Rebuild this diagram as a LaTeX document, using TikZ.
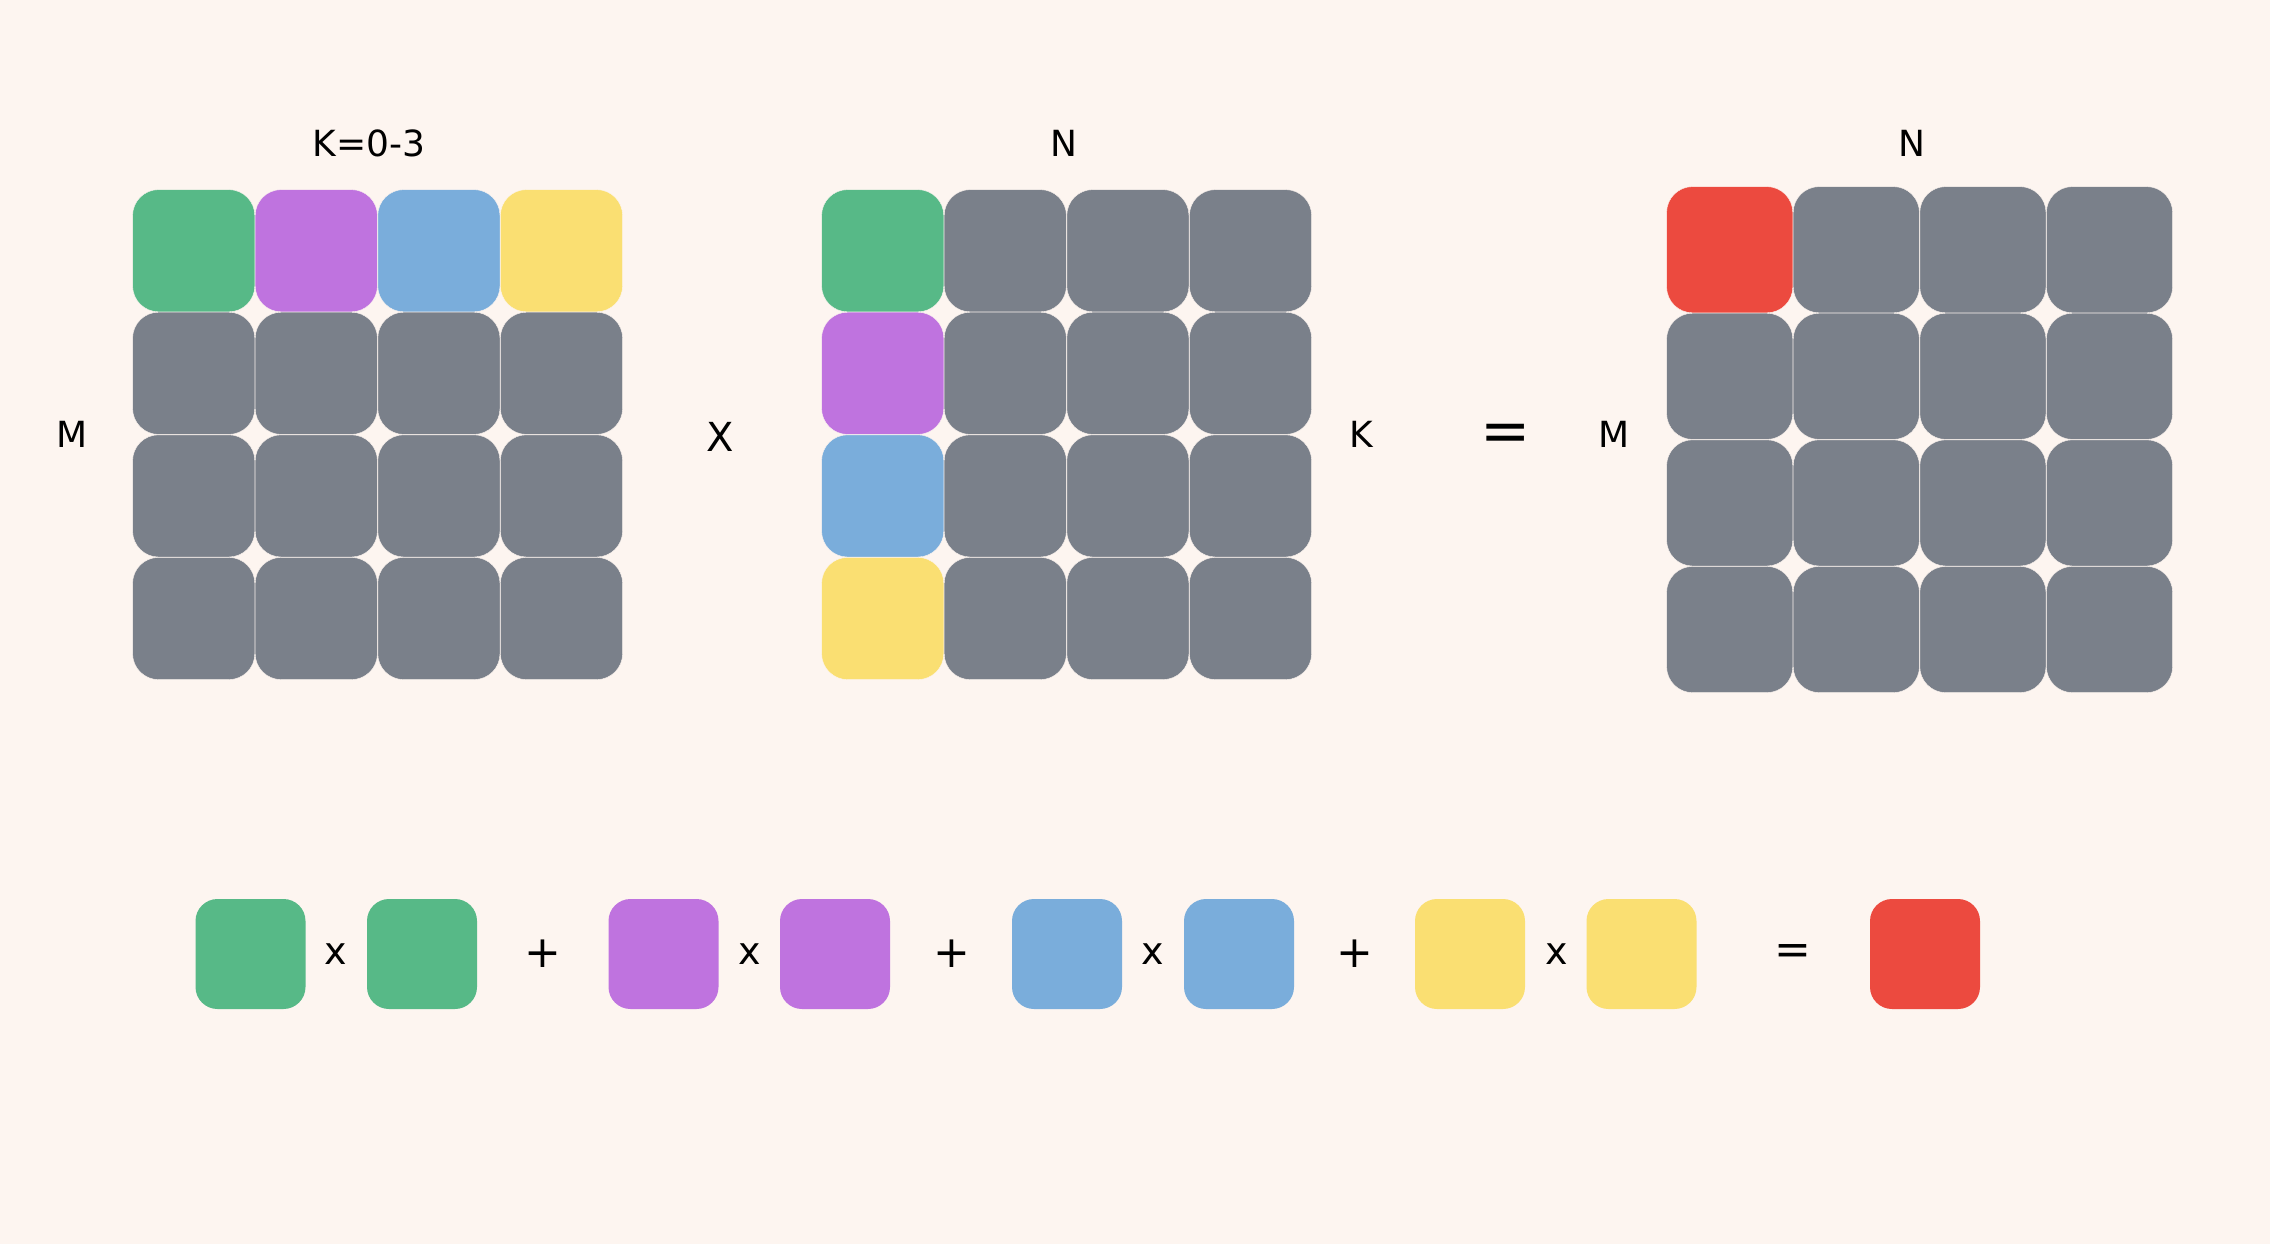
\documentclass[tikz,border=0pt]{standalone}
\usepackage{fontspec}
\setmainfont{DejaVu Sans}
\definecolor{paper}{HTML}{FDF5F0}
\definecolor{slate}{HTML}{7A808A}
\definecolor{kgreen}{HTML}{57B987}
\definecolor{kpurple}{HTML}{BF73DF}
\definecolor{kblue}{HTML}{7AADDB}
\definecolor{kyellow}{HTML}{FADF72}
\definecolor{kred}{HTML}{EC4A3F}
\begin{document}
\begin{tikzpicture}[x=0.5pt,y=-0.5pt]
       \tikzstyle{cell} = [rectangle, rounded corners=13pt, fill=slate, draw=paper, line width=0.2pt, minimum size=61.1pt, inner sep=0pt, outer sep=0pt];
       \tikzstyle{bigcell} = [cell, minimum size=63.1pt];
       \tikzstyle{tile} = [cell, rounded corners=11pt, minimum size=55pt, draw=none];
       \tikzstyle{lbl} = [inner sep=0pt, font=\fontsize{18}{20}\selectfont];
       \tikzstyle{op} = [inner sep=0pt, font=\fontsize{19}{21}\selectfont];
       \fill[paper] (0,0) rectangle (2270,1244);
       \useasboundingbox (0,0) rectangle (2270,1244);
       % M x K
       \matrix (lhs) at (132,189) [anchor=north west,row sep=0pt,column sep=0pt,inner sep=0pt,ampersand replacement=\&]
       {
         \node[cell,fill=kgreen](a11){}; \& \node[cell,fill=kpurple](a12){}; \& \node[cell,fill=kblue](a13){}; \& \node[cell,fill=kyellow](a14){}; \\
         \node[cell](a21){}; \& \node[cell](a22){}; \& \node[cell](a23){}; \& \node[cell](a24){}; \\
         \node[cell](a31){}; \& \node[cell](a32){}; \& \node[cell](a33){}; \& \node[cell](a34){}; \\
         \node[cell](a41){}; \& \node[cell](a42){}; \& \node[cell](a43){}; \& \node[cell](a44){}; \\
       };
       % K x N
       \matrix (rhs) at (821,189) [anchor=north west,row sep=0pt,column sep=0pt,inner sep=0pt,ampersand replacement=\&]
       {
         \node[cell,fill=kgreen](b11){}; \& \node[cell](b12){}; \& \node[cell](b13){}; \& \node[cell](b14){}; \\
         \node[cell,fill=kpurple](b21){}; \& \node[cell](b22){}; \& \node[cell](b23){}; \& \node[cell](b24){}; \\
         \node[cell,fill=kblue](b31){}; \& \node[cell](b32){}; \& \node[cell](b33){}; \& \node[cell](b34){}; \\
         \node[cell,fill=kyellow](b41){}; \& \node[cell](b42){}; \& \node[cell](b43){}; \& \node[cell](b44){}; \\
       };
       % M x N
       \matrix (res) at (1666,186) [anchor=north west,row sep=0pt,column sep=0pt,inner sep=0pt,ampersand replacement=\&]
       {
         \node[bigcell,fill=kred](c11){}; \& \node[bigcell](c12){}; \& \node[bigcell](c13){}; \& \node[bigcell](c14){}; \\
         \node[bigcell](c21){}; \& \node[bigcell](c22){}; \& \node[bigcell](c23){}; \& \node[bigcell](c24){}; \\
         \node[bigcell](c31){}; \& \node[bigcell](c32){}; \& \node[bigcell](c33){}; \& \node[bigcell](c34){}; \\
         \node[bigcell](c41){}; \& \node[bigcell](c42){}; \& \node[bigcell](c43){}; \& \node[bigcell](c44){}; \\
       };
       \node[lbl](kspan) at (369,143) {K=0-3};
       \node[lbl](ntop) at (1064,143) {N};
       \node[lbl](nres) at (1912,143) {N};
       \node[lbl](mlhs) at (72,434) {M};
       \node[lbl, font=\fontsize{20}{22}\selectfont](times) at (720,437) {X};
       \node[lbl](krhs) at (1361,434) {K};
       \node[lbl, font=\fontsize{30}{32}\selectfont](equals) at (1506,438) {=};
       \node[lbl](mres) at (1614,434) {M};

       % k = 0..3
       \node[tile,fill=kgreen](g1) at (250.5,954) {};
       \node[op](x1) at (336,954) {x};
       \node[tile,fill=kgreen](g2) at (422,954) {};
       \node[op, font=\fontsize{22}{24}\selectfont](p1) at (543,954) {+};
       \node[tile,fill=kpurple](v1) at (663.5,954) {};
       \node[op](x2) at (749.5,954) {x};
       \node[tile,fill=kpurple](v2) at (835,954) {};
       \node[op, font=\fontsize{22}{24}\selectfont](p2) at (952,954) {+};
       \node[tile,fill=kblue](u1) at (1067,954) {};
       \node[op](x3) at (1152.5,954) {x};
       \node[tile,fill=kblue](u2) at (1239,954) {};
       \node[op, font=\fontsize{22}{24}\selectfont](p3) at (1355,954) {+};
       \node[tile,fill=kyellow](y1) at (1470,954) {};
       \node[op](x4) at (1557,954) {x};
       \node[tile,fill=kyellow](y2) at (1641.5,954) {};
       \node[op, font=\fontsize{22}{24}\selectfont](eq) at (1793,954) {=};
       \node[tile,fill=kred](r1) at (1925,954) {};
     \end{tikzpicture}
\end{document}
